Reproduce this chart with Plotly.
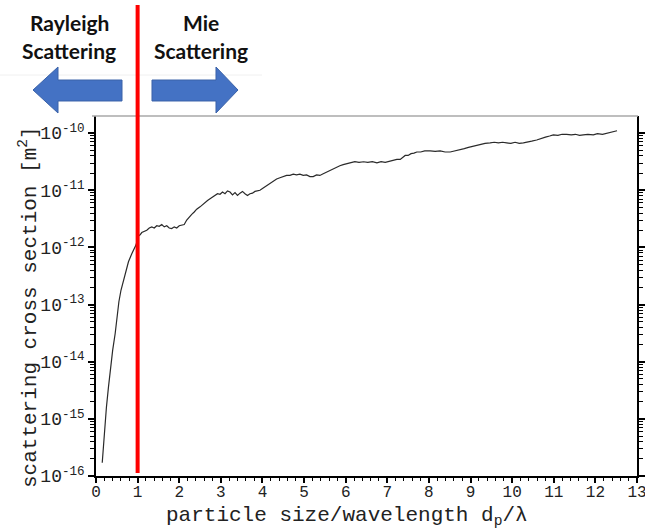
import plotly.graph_objects as go

# ---------------- data ----------------
size_ratio = [
    0.15, 0.20, 0.25, 0.30, 0.35, 0.40, 0.46, 0.50, 0.55, 0.60,
    0.66, 0.72, 0.78, 0.86, 0.92, 0.96,
    1.02, 1.06, 1.10, 1.16, 1.22, 1.28, 1.34, 1.40, 1.46, 1.52,
    1.58, 1.64, 1.70, 1.76, 1.82, 1.88, 1.94, 2.00, 2.06, 2.12,
    2.18, 2.24, 2.30, 2.36, 2.42, 2.50, 2.56, 2.62, 2.68, 2.74,
    2.80, 2.86, 2.92, 2.98, 3.04, 3.10, 3.16, 3.22, 3.28, 3.34,
    3.40, 3.46, 3.52, 3.58, 3.64, 3.70, 3.76, 3.82, 3.88, 3.94,
    4.00, 4.08, 4.16, 4.24, 4.34, 4.42, 4.50, 4.58, 4.66, 4.74,
    4.82, 4.90, 4.98, 5.06, 5.14, 5.22, 5.30, 5.38, 5.46, 5.54,
    5.62, 5.70, 5.78, 5.86, 5.94,
    6.03, 6.12, 6.22, 6.32, 6.43, 6.53, 6.64, 6.75, 6.85, 6.95,
    7.05, 7.15, 7.23, 7.31, 7.37, 7.43, 7.50, 7.57, 7.64, 7.71,
    7.80, 7.90, 8.03,
    8.15, 8.27, 8.39, 8.51, 8.63, 8.75, 8.85, 8.95, 9.05, 9.15,
    9.25, 9.35, 9.47, 9.57, 9.67, 9.77, 9.87, 9.97, 10.07, 10.17,
    10.27, 10.37, 10.47, 10.59, 10.70, 10.80, 10.90, 10.99,
    11.10, 11.20, 11.31, 11.42, 11.52, 11.62, 11.71, 11.82, 11.95, 12.05,
    12.17, 12.28, 12.40, 12.52,
]

cross_section = [
    1.70e-16, 6.31e-16, 1.58e-15, 3.63e-15, 7.94e-15, 1.58e-14, 3.09e-14, 5.62e-14, 1.12e-13, 1.78e-13,
    2.69e-13, 3.98e-13, 5.62e-13, 7.76e-13, 9.55e-13, 1.10e-12,
    1.58e-12, 1.66e-12, 1.82e-12, 1.91e-12, 2.00e-12, 2.19e-12, 2.29e-12, 2.19e-12, 2.40e-12, 2.34e-12,
    2.51e-12, 2.29e-12, 2.40e-12, 2.19e-12, 2.14e-12, 2.29e-12, 2.19e-12, 2.40e-12, 2.45e-12, 2.51e-12,
    3.02e-12, 3.47e-12, 3.80e-12, 4.17e-12, 4.68e-12, 5.13e-12, 5.62e-12, 6.17e-12, 6.61e-12, 7.08e-12,
    7.59e-12, 7.94e-12, 8.71e-12, 8.51e-12, 9.33e-12, 8.71e-12, 9.77e-12, 9.33e-12, 8.32e-12, 9.12e-12,
    8.13e-12, 8.91e-12, 9.55e-12, 8.71e-12, 8.13e-12, 8.71e-12, 8.91e-12, 9.55e-12, 9.77e-12, 1.00e-11,
    1.07e-11, 1.17e-11, 1.29e-11, 1.41e-11, 1.58e-11, 1.66e-11, 1.74e-11, 1.82e-11, 1.82e-11, 1.91e-11,
    1.86e-11, 1.91e-11, 1.82e-11, 1.86e-11, 1.74e-11, 1.74e-11, 1.86e-11, 1.82e-11, 1.95e-11, 2.09e-11,
    2.24e-11, 2.40e-11, 2.51e-11, 2.69e-11, 2.82e-11,
    2.95e-11, 3.02e-11, 3.16e-11, 3.09e-11, 3.16e-11, 3.09e-11, 3.16e-11, 3.02e-11, 3.16e-11, 3.09e-11,
    3.24e-11, 3.31e-11, 3.47e-11, 3.47e-11, 3.80e-11, 4.07e-11, 4.07e-11, 4.37e-11, 4.47e-11, 4.68e-11,
    4.68e-11, 4.90e-11, 4.90e-11,
    4.79e-11, 4.90e-11, 4.68e-11, 4.68e-11, 4.90e-11, 5.01e-11, 5.37e-11, 5.62e-11, 5.89e-11, 6.17e-11,
    6.31e-11, 6.61e-11, 6.76e-11, 6.92e-11, 6.76e-11, 6.92e-11, 6.76e-11, 6.61e-11, 6.92e-11, 6.61e-11,
    6.76e-11, 7.08e-11, 7.24e-11, 7.59e-11, 8.13e-11, 8.51e-11, 8.91e-11, 9.33e-11,
    9.12e-11, 9.55e-11, 9.55e-11, 9.33e-11, 9.55e-11, 9.12e-11, 9.33e-11, 9.55e-11, 9.33e-11, 9.77e-11,
    9.55e-11, 1.00e-10, 1.05e-10, 1.10e-10,
]
assert len(size_ratio) == len(cross_section), (len(size_ratio), len(cross_section))

boundary_ratio = 1.0  # Rayleigh / Mie boundary

y_tickvals = [1e-16, 1e-15, 1e-14, 1e-13, 1e-12, 1e-11, 1e-10]
y_ticktext = ["10<sup>-16</sup>", "10<sup>-15</sup>", "10<sup>-14</sup>", "10<sup>-13</sup>",
              "10<sup>-12</sup>", "10<sup>-11</sup>", "10<sup>-10</sup>"]

x_title = "particle size/wavelength d<sub>p</sub>/λ"
y_title = "scattering cross section [m<sup>2</sup>]"
left_label = ["Rayleigh", "Scattering"]
right_label = ["Mie", "Scattering"]

# ---------------- layout helpers ----------------
W, H = 645, 529
L, R, T, B = 96, 637, 116, 476  # plot area in pixels


def px(x):
    return (x - L) / (R - L)


def py(y):
    return (B - y) / (B - T)


def path(points):
    return "M " + " L ".join(f"{px(a):.5f},{py(b):.5f}" for a, b in points) + " Z"


MONO = "Liberation Mono"

fig = go.Figure()
fig.add_trace(go.Scatter(
    x=size_ratio, y=cross_section, mode="lines",
    line=dict(color="#2a2a2a", width=1.2), showlegend=False,
))

fig.update_xaxes(
    range=[0, 13], tickmode="linear", tick0=0, dtick=1,
    ticks="outside", ticklen=5, tickwidth=1.6, tickcolor="#000000",
    minor=dict(tick0=0, dtick=0.2, ticks="outside", ticklen=3, tickwidth=1.2, tickcolor="#000000"),
    showline=True, linecolor="black", linewidth=1.5, mirror=False,
    showgrid=False, zeroline=False, ticklabeloverflow="allow", ticklabelstandoff=-5,
    tickfont=dict(family=MONO, size=16, color="#222"),
)
fig.update_yaxes(
    type="log", range=[-16, -9.70], tickmode="array",
    tickvals=y_tickvals, ticktext=y_ticktext,
    ticks="outside", ticklen=6, tickwidth=1.6, tickcolor="#000000",
    minor=dict(ticks="outside", ticklen=4, tickwidth=1.2, tickcolor="#000000", dtick="D1"),
    showline=True, linecolor="black", linewidth=1.5, mirror="ticks",
    showgrid=False, zeroline=False,
    tickfont=dict(family=MONO, size=18, color="#222"),
)

shapes = []
shapes.append(dict(type="line", xref="paper", yref="paper",
                   x0=px(0), x1=px(262), y0=py(75), y1=py(75),
                   line=dict(color="#f0f0f0", width=1)))
shapes.append(dict(type="line", xref="paper", yref="paper",
                   x0=px(92), x1=px(638), y0=1, y1=1,
                   line=dict(color="#a8a8a8", width=1.5)))
blue = "#4472C4"
shapes.append(dict(type="path", xref="paper", yref="paper",
                   path=path([(33, 90), (58, 67), (58, 80), (122, 80), (122, 101), (58, 101), (58, 113)]),
                   fillcolor=blue, line=dict(color="#3a62a8", width=1)))
shapes.append(dict(type="path", xref="paper", yref="paper",
                   path=path([(238, 90), (216, 67), (216, 80), (152, 80), (152, 101), (216, 101), (216, 113)]),
                   fillcolor=blue, line=dict(color="#3a62a8", width=1)))
shapes.append(dict(type="line", xref="x", yref="paper",
                   x0=boundary_ratio, x1=boundary_ratio, y0=py(473), y1=py(5),
                   line=dict(color="#ff0000", width=4), layer="above"))

annotations = []
for i, txt in enumerate(left_label):
    annotations.append(dict(xref="paper", yref="paper", x=px(69), y=py(22 + 28 * i),
                            text=f"<b>{txt}</b>", showarrow=False,
                            font=dict(family="Lato", size=21, color="#111"),
                            xanchor="center", yanchor="middle"))
for i, txt in enumerate(right_label):
    annotations.append(dict(xref="paper", yref="paper", x=px(201), y=py(22 + 28 * i),
                            text=f"<b>{txt}</b>", showarrow=False,
                            font=dict(family="Lato", size=21, color="#111"),
                            xanchor="center", yanchor="middle"))
# axis titles
annotations.append(dict(xref="paper", yref="paper", x=px(347), y=py(516),
                        text=x_title, showarrow=False,
                        font=dict(family=MONO, size=21, color="#222"),
                        xanchor="center", yanchor="middle"))
annotations.append(dict(xref="paper", yref="paper", x=px(28), y=py(307),
                        text=y_title, showarrow=False, textangle=-90,
                        font=dict(family=MONO, size=21, color="#222"),
                        xanchor="center", yanchor="middle"))

fig.update_layout(
    width=W, height=H,
    margin=dict(l=L, r=W - R, t=T, b=H - B, autoexpand=False),
    paper_bgcolor="white", plot_bgcolor="white",
    shapes=shapes, annotations=annotations, showlegend=False,
)

fig.write_html("out.html")
